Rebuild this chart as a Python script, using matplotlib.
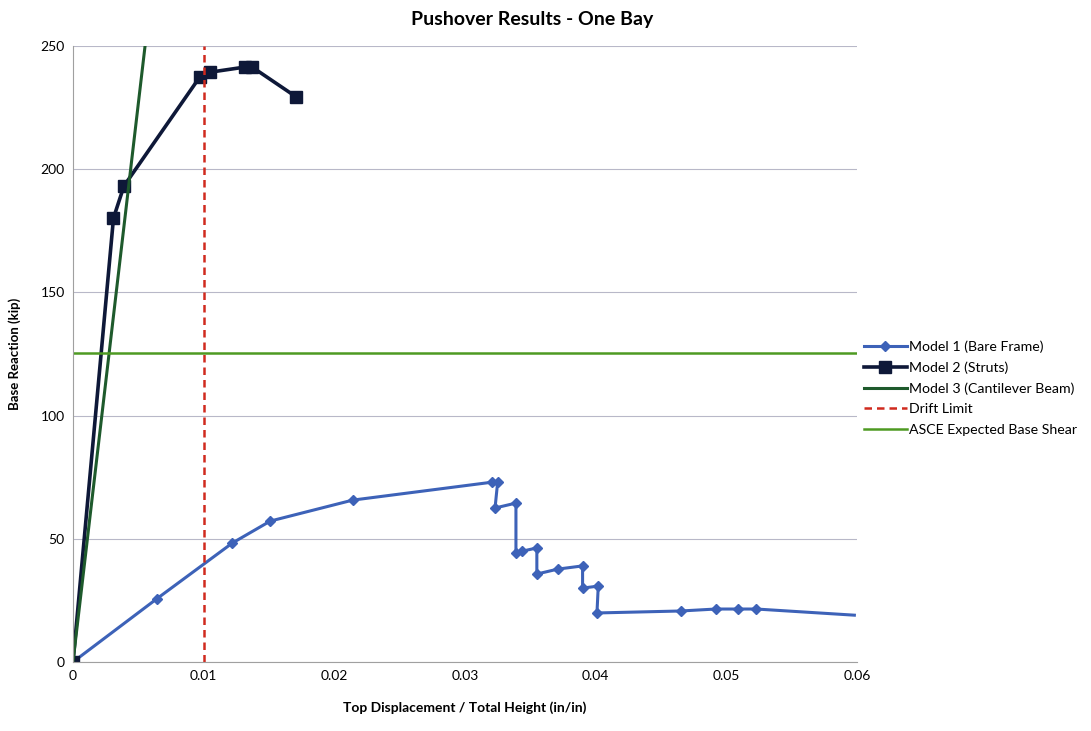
import matplotlib.pyplot as plt

plt.rcParams['font.family'] = ['Lato', 'DejaVu Sans']

# Model 1 (Bare Frame)
m1_x = [0, 0.0064, 0.0122, 0.0151, 0.0214, 0.0321, 0.0325, 0.0323, 0.0339, 0.0339,
        0.0344, 0.0355, 0.0355, 0.0371, 0.0390, 0.0390, 0.0402, 0.0401,
        0.0465, 0.0492, 0.0509, 0.0523, 0.0598]
m1_y = [0, 25.6, 48.3, 57.2, 65.7, 73.0, 73.0, 62.5, 64.5, 44.2,
        45.0, 46.3, 35.7, 37.7, 39.0, 30.0, 30.8, 19.9,
        20.7, 21.5, 21.5, 21.5, 19.0]

# Model 2 (Struts)
m2_x = [0, 0.0031, 0.0039, 0.0097, 0.0105, 0.0132, 0.0137, 0.0171]
m2_y = [0, 180.2, 193.2, 237.4, 239.4, 241.5, 241.5, 229.3]

# Model 3 (Cantilever Beam)
m3_x = [0, 0.0060]
m3_y = [0, 272]

drift_limit = 0.01
asce_shear = 125.4

fig = plt.figure(figsize=(10.91, 7.31), dpi=100)
ax = fig.add_axes([0.0669, 0.0944, 0.7186, 0.8426])

ax.plot(m1_x, m1_y, color='#3d62b8', lw=2.2, marker='D', ms=5,
        markevery=list(range(len(m1_x) - 1)), label='Model 1 (Bare Frame)')
ax.plot(m2_x, m2_y, color='#0e1838', lw=2.6, marker='s', ms=8,
        label='Model 2 (Struts)')
ax.plot(m3_x, m3_y, color='#1e5a2c', lw=2.2, label='Model 3 (Cantilever Beam)')
ax.plot([drift_limit, drift_limit], [0, 250], color='#d02a1e', lw=1.8,
        ls=(0, (3, 2)), label='Drift Limit')
ax.plot([0, 0.06], [asce_shear, asce_shear], color='#4e9a22', lw=1.8,
        label='ASCE Expected Base Shear')

ax.set_xlim(0, 0.06)
ax.set_ylim(0, 250)
ax.set_xticks([0, 0.01, 0.02, 0.03, 0.04, 0.05, 0.06])
ax.set_xticklabels(['0', '0.01', '0.02', '0.03', '0.04', '0.05', '0.06'])
ax.set_yticks([0, 50, 100, 150, 200, 250])
ax.tick_params(labelsize=10, length=0, pad=6)
ax.grid(axis='y', color='#b8b8c8', lw=0.8)
ax.set_axisbelow(True)
for s in ['top', 'right']:
    ax.spines[s].set_visible(False)
for s in ['left', 'bottom']:
    ax.spines[s].set_color('#a0a0a0')
    ax.spines[s].set_linewidth(0.8)

ax.set_xlabel('Top Displacement / Total Height (in/in)', fontsize=10,
              fontweight='bold', labelpad=14)
ax.set_ylabel('Base Reaction (kip)', fontsize=9.5, fontweight='bold', labelpad=14)
fig.suptitle('Pushover Results - One Bay', x=0.488, y=0.985, fontsize=14,
             fontweight='bold')

ax.legend(loc='center left', bbox_to_anchor=(1.0, 0.445), frameon=False,
          fontsize=10.2, handlelength=3.0, labelspacing=0.6, handletextpad=0.2,
          borderaxespad=0.1)

fig.savefig('out.png', dpi=100)
